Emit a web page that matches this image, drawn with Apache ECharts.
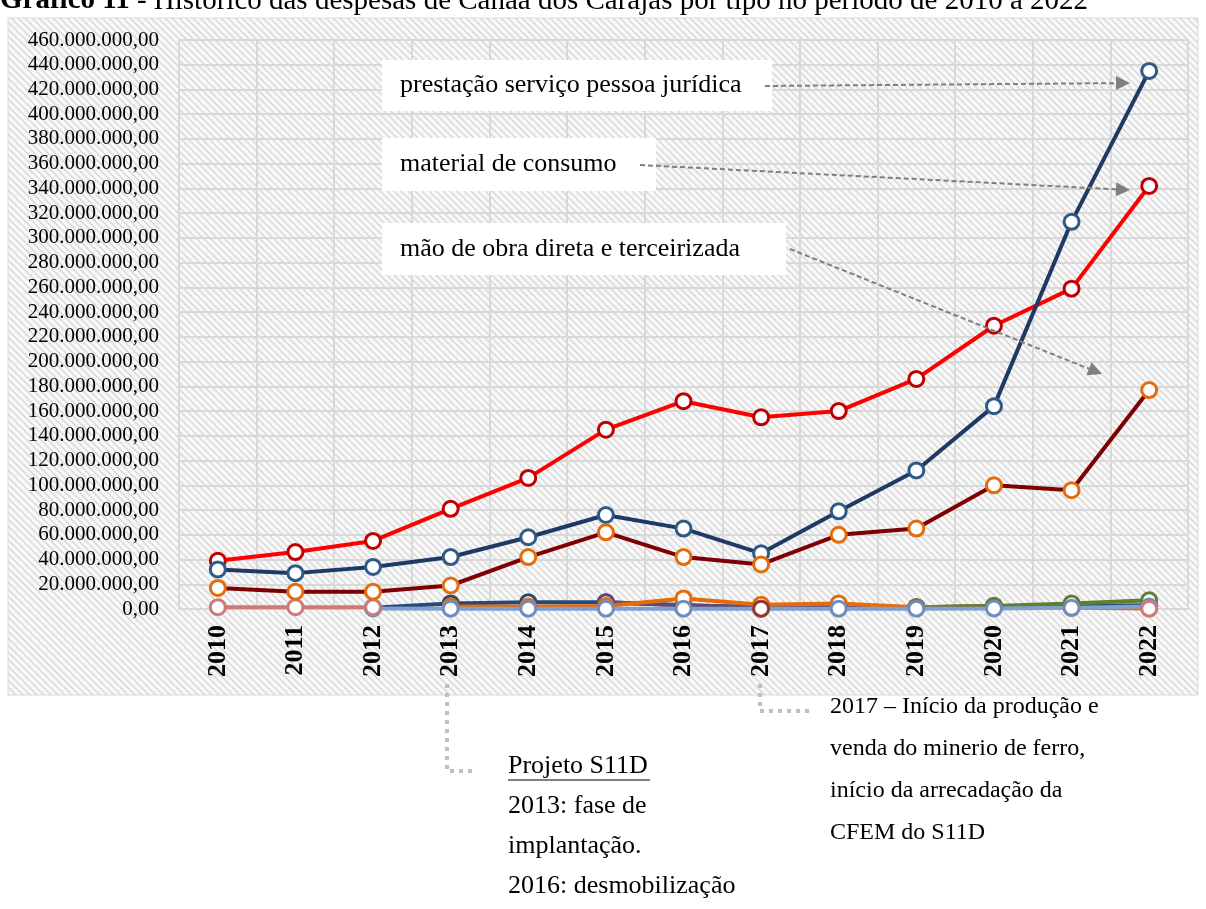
<!DOCTYPE html>
<html>
<head>
<meta charset="UTF-8">
<title>Gráfico 11</title>
<script type="text/javascript" src="https://cdn.jsdelivr.net/npm/echarts@6/dist/echarts.min.js"></script>
<style>body{margin:0;background:#fff;}</style>
</head>
<body>
<div id="main" style="width:1206px;height:909px;"></div>

<script type="text/javascript">
// anos (eixo x)
var anos = ['2010','2011','2012','2013','2014','2015','2016','2017','2018','2019','2020','2021','2022'];
// valores em milhões de reais
var prestacao = [32, 29, 34, 42, 58, 76, 65, 45, 79, 112, 164, 313, 435];
var material  = [39, 46, 55, 81, 106, 145, 168, 155, 160, 186, 229, 259, 342];
var maoObra   = [17, 14, 14, 19, 42, 62, 42, 36, 60, 65, 100, 96, 177];
// séries pequenas perto de zero
var azulEscuro = [null, null, 1, 4.5, 5.5, 5.5, 3, 1.5, 1.5, 1.5, 2, 2.5, 3];
var roxo       = [null, null, null, null, null, 5.5, 3, 1.5, 1.5, 1.5, 2.5, null, null];
var laranja    = [null, null, null, 2, 2, 2.5, 8.5, 3.5, 4.5, 1.5, 2.5, 1, 0.5];
var verde      = [null, null, null, null, null, null, null, null, null, 1, 2.5, 4.5, 7];
var azulClaro  = [null, null, 0.5, 0.3, 0.3, 0.3, 0.3, 0.3, 0.3, 0.3, 0.5, 1, 2];
var vinho      = [null, null, null, null, null, null, null, 0.3, null, null, null, null, null];
var rosa       = [1.5, 1.5, 1.5, null, null, null, null, null, null, null, null, null, 0.3];

var serif = "'Liberation Serif', 'Times New Roman', serif";

// fundo hachurado
var cv = document.createElement('canvas');
cv.width = 7; cv.height = 7;
var c = cv.getContext('2d');
c.fillStyle = '#f8f8f8'; c.fillRect(0, 0, 7, 7);
c.strokeStyle = '#d8d8d8'; c.lineWidth = 1.5;
c.beginPath();
c.moveTo(-1, -1); c.lineTo(8, 8);
c.moveTo(-8, -1); c.lineTo(1, 8);
c.moveTo(6, -1); c.lineTo(15, 8);
c.stroke();

function fmt(v) {
    if (v === 0) return '0,00';
    var s = String(Math.round(v * 1000000));
    return s.replace(/\B(?=(\d{3})+(?!\d))/g, '.') + ',00';
}

function serie(nome, dados, corLinha, corMarca, z) {
    return {
        name: nome, type: 'line', data: dados, z: z,
        symbol: 'circle', symbolSize: 15, showSymbol: true,
        lineStyle: { color: corLinha, width: 4 },
        itemStyle: { color: '#fff', borderColor: corMarca, borderWidth: 3 },
        emphasis: { disabled: true },
        animation: false
    };
}

// seta tracejada
function seta(x1, y1, x2, y2) {
    var a = Math.atan2(y2 - y1, x2 - x1), L = 14, W = 7;
    var bx = x2 - L * Math.cos(a), by = y2 - L * Math.sin(a);
    return [{
        type: 'line', z: 110, silent: true,
        shape: { x1: x1, y1: y1, x2: bx, y2: by },
        style: { stroke: '#7f7f7f', lineWidth: 2, lineDash: [5, 3] }
    }, {
        type: 'polygon', z: 110, silent: true,
        shape: { points: [[x2, y2], [bx - W * Math.sin(a), by + W * Math.cos(a)], [bx + W * Math.sin(a), by - W * Math.cos(a)]] },
        style: { fill: '#7f7f7f' }
    }];
}

function caixa(x, y, w, h, texto) {
    return [{
        type: 'rect', z: 100, silent: true,
        shape: { x: x, y: y, width: w, height: h },
        style: { fill: '#fff' }
    }, {
        type: 'text', z: 101, silent: true, x: x + 18, y: y + h / 2,
        style: { text: texto, font: '26px ' + serif, fill: '#000', verticalAlign: 'middle' }
    }];
}

function texto(x, y, t, tam) {
    return { type: 'text', silent: true, x: x, y: y,
        style: { text: t, font: tam + 'px ' + serif, fill: '#000', verticalAlign: 'middle' } };
}

var pontilhado = { stroke: '#bfbfbf', lineWidth: 4, lineDash: [4, 5] };

var graficos = [
    { type: 'rect', z: -10, silent: true, shape: { x: 8, y: 18, width: 1190, height: 677 },
      style: { fill: { image: cv, repeat: 'repeat' }, stroke: '#d9d9d9', lineWidth: 1 } },
    { type: 'text', silent: true, x: 0, y: 1,
      style: { text: '{b|Gráfico 11} - Histórico das despesas de Canaã dos Carajás por tipo no período de 2010 a 2022',
               font: '29px ' + serif, fill: '#000', verticalAlign: 'middle',
               rich: { b: { font: 'bold 29px ' + serif, fill: '#000' } } } },
    // linhas pontilhadas de chamada
    { type: 'polyline', silent: true, shape: { points: [[447, 684], [447, 771], [477, 771]] }, style: pontilhado },
    { type: 'polyline', silent: true, shape: { points: [[760, 684], [760, 711], [812, 711]] }, style: pontilhado },
    texto(508, 766, 'Projeto S11D', 26),
    { type: 'line', silent: true, shape: { x1: 508, y1: 780, x2: 650, y2: 780 }, style: { stroke: '#000', lineWidth: 1 } },
    texto(508, 806, '2013: fase de', 26),
    texto(508, 846, 'implantação.', 26),
    texto(508, 886, '2016: desmobilização', 26),
    texto(830, 707, '2017 – Início da produção e', 24),
    texto(830, 749, 'venda do minerio de ferro,', 24),
    texto(830, 791, 'início da arrecadação da', 24),
    texto(830, 833, 'CFEM do S11D', 24)
];
graficos = graficos
    .concat(caixa(382, 60, 390, 51, 'prestação serviço pessoa jurídica'))
    .concat(caixa(382, 138, 274, 53, 'material de consumo'))
    .concat(caixa(382, 223, 404, 52, 'mão de obra direta e terceirizada'))
    .concat(seta(765, 86, 1130, 83))
    .concat(seta(640, 165, 1130, 190))
    .concat(seta(790, 249, 1102, 374));

var mychart = echarts.init(document.getElementById('main'));

var option = {
    backgroundColor: '#fff',
    animation: false,
    grid: { left: 179, right: 18, top: 40, bottom: 300 },
    xAxis: {
        type: 'category',
        data: anos,
        boundaryGap: true,
        axisLine: { lineStyle: { color: '#d9d9d9', width: 2 } },
        axisTick: { show: false },
        splitLine: { show: true, lineStyle: { color: '#d9d9d9', width: 2 } },
        axisLabel: { rotate: 90, margin: 16, fontFamily: serif, fontWeight: 'bold', fontSize: 26, color: '#000' }
    },
    yAxis: {
        type: 'value',
        min: 0, max: 460, interval: 20,
        axisLine: { show: false },
        axisTick: { show: false },
        splitLine: { lineStyle: { color: '#d9d9d9', width: 2 } },
        axisLabel: { formatter: fmt, margin: 20, fontFamily: serif, fontSize: 21, color: '#000' }
    },
    graphic: graficos,
    series: [
        serie('material de consumo', material, '#ff0000', '#c00000', 5),
        serie('prestação serviço pessoa jurídica', prestacao, '#203864', '#2e5a88', 6),
        serie('mão de obra direta e terceirizada', maoObra, '#7f0000', '#e46c0a', 7),
        serie('outros 1', azulEscuro, '#254a78', '#254a78', 3),
        serie('outros 2', roxo, '#5f497a', '#5f497a', 3),
        serie('outros 3', laranja, '#e46c0a', '#e46c0a', 3),
        serie('outros 4', verde, '#5f7f30', '#5f7f30', 3),
        serie('outros 5', azulClaro, '#7f9fcf', '#6c8ebf', 4),
        serie('outros 6', vinho, '#953735', '#953735', 4),
        serie('outros 7', rosa, '#cc7a7a', '#cc7a7a', 4)
    ]
};

mychart.setOption(option);
</script>
</body>
</html>
